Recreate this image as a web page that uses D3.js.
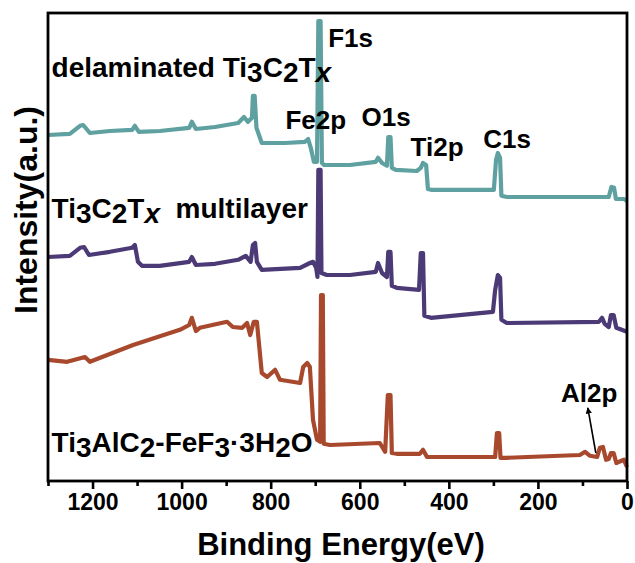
<!DOCTYPE html>
<html>
<head>
<meta charset="utf-8">
<script src="https://cdn.jsdelivr.net/npm/d3@7"></script>
<style>
  body { margin: 0; background: #fff; }
  text { font-family: "Liberation Sans", Arial, sans-serif; font-weight: bold; fill: #000; }
</style>
</head>
<body>
<svg id="chart" width="635" height="563"></svg>
<script>
// XPS survey spectra: [binding energy (eV), intensity (a.u.)]
const majorTicks = [0, 200, 400, 600, 800, 1000, 1200];
const minorTicks = [100, 300, 500, 700, 900, 1100, 1300];

const delaminated = [
  [1300, 86.5], [1251, 86.8], [1228, 88.8], [1221, 89], [1206, 87], [1161, 87.5],
  [1111, 87.8], [1105, 88.8], [1096, 87.3], [1049, 87.5], [983, 88.3], [977, 89.8],
  [968, 88], [925, 88.5], [873, 89.5], [860, 91], [851, 89.8], [842, 90.8],
  [840, 96.3], [836, 96.3], [832, 88.3], [820, 84.5], [768, 84.5], [723, 84.8],
  [716, 85.5], [710, 83.3], [703, 79.8], [696, 79.8], [693, 115], [688, 115],
  [685, 79.5], [680, 79], [622, 79], [564, 79.8], [559, 80.8], [550, 79.5],
  [539, 78.8], [536, 86], [531, 86], [528, 78.3], [519, 77.8], [472, 77.5],
  [463, 78.3], [458, 79.5], [451, 79], [447, 73], [440, 72.8], [299, 72.8],
  [294, 80.3], [290, 82], [285, 80.8], [282, 71.3], [270, 71], [41, 71],
  [35, 73.5], [29, 73.3], [25, 70.5], [7, 70.5], [0, 70]
];

const multilayer = [
  [1300, 56], [1251, 56.3], [1228, 58.3], [1219, 58.5], [1208, 56.5], [1161, 57.3],
  [1111, 58.3], [1105, 59], [1098, 54.8], [1089, 53.8], [1049, 53.8], [983, 54.8],
  [977, 56], [968, 54], [925, 54.3], [873, 55.3], [856, 56.3], [845, 54.8],
  [840, 59], [835, 59.5], [831, 54.8], [820, 52.8], [734, 53.3], [712, 54.5],
  [705, 54.8], [698, 53.3], [695, 51], [693, 77.8], [688, 77.8], [686, 52],
  [674, 51.5], [622, 51.5], [564, 52.3], [559, 54.5], [550, 52], [539, 51],
  [536, 57.3], [531, 57.3], [528, 48.8], [517, 48.3], [467, 47.8], [463, 57],
  [458, 57], [455, 41.3], [440, 40.8], [301, 42.3], [296, 47.8], [290, 51.5],
  [285, 50.8], [282, 40.3], [270, 39.5], [63, 39.8], [56, 40.8], [50, 39.3],
  [41, 38.5], [36, 41.5], [30, 41.5], [24, 38.3], [0, 37.3]
];

const precursor = [
  [1300, 30.3], [1257, 29.8], [1217, 31], [1206, 29.8], [1109, 34], [1004, 37.8],
  [983, 39], [977, 40.8], [968, 37.5], [959, 38.3], [898, 39.8], [885, 38.5],
  [864, 38.3], [853, 39.5], [846, 36.5], [838, 39.8], [831, 39.8], [820, 27],
  [808, 26], [790, 27.8], [779, 25.3], [734, 24.5], [727, 28.5], [718, 29.5],
  [712, 28.5], [705, 15.3], [696, 10.3], [689, 9.8], [687, 46.5], [683, 46.5],
  [681, 9.3], [667, 9], [555, 9.5], [543, 7.3], [537, 21.5], [531, 21.5],
  [528, 7], [517, 6.8], [465, 6.8], [458, 7.8], [449, 6], [296, 6],
  [292, 12], [287, 12], [284, 5.8], [270, 5.8], [106, 6.5], [94, 7.3],
  [83, 6.3], [67, 6], [61, 8.3], [54, 8.5], [47, 5.3], [41, 5.5],
  [36, 7], [30, 7], [24, 4.5], [7, 5.3], [0, 3.5]
];

const series = [
  { data: delaminated, color: "#5fa0a0" },
  { data: multilayer, color: "#4b3a76" },
  { data: precursor, color: "#a8492d" }
];

// Sample names, drawn with subscripts on the stoichiometric numbers
const sampleLabels = [
  { be: 1292, y: 101, parts: [["delaminated Ti"], ["3", "sub"], ["C"], ["2", "sub"], ["T"], ["x", "subi"]] },
  { be: 1292, y: 65.8, parts: [["Ti"], ["3", "sub"], ["C"], ["2", "sub"], ["T"], ["x", "subi"], ["  multilayer"]] },
  { be: 1292, y: 7.3, parts: [["Ti"], ["3", "sub"], ["AlC"], ["2", "sub"], ["-FeF"], ["3", "sub"], ["\u00b73H"], ["2", "sub"], ["O"]] }
];

// Peak assignments
const peakLabels = [
  { text: "F1s", be: 671, y: 108.5 },
  { text: "Fe2p", be: 767, y: 88 },
  { text: "O1s", be: 596, y: 88.8 },
  { text: "Ti2p", be: 486, y: 81.3 },
  { text: "C1s", be: 323, y: 83.3 },
  { text: "Al2p", be: 148, y: 19.8 }
];
const al2pArrow = { from: [70, 7], to: [88, 18.3] };

const svg = d3.select("#chart");
const plotLeft = 48, plotRight = 627, plotTop = 13, plotBottom = 481;

const x = d3.scaleLinear().domain([1300, 0]).range([plotLeft, plotRight]);
const y = d3.scaleLinear().domain([0, 117]).range([plotBottom, plotTop]);

const line = d3.line().x(d => x(d[0])).y(d => y(d[1]));

svg.append("g").selectAll("path")
  .data(series)
  .join("path")
  .attr("d", d => line(d.data))
  .attr("fill", "none")
  .attr("stroke", d => d.color)
  .attr("stroke-width", 4.2)
  .attr("stroke-linejoin", "round");

// Frame
svg.append("rect")
  .attr("x", plotLeft).attr("y", plotTop)
  .attr("width", plotRight - plotLeft).attr("height", plotBottom - plotTop)
  .attr("fill", "none").attr("stroke", "#000").attr("stroke-width", 2.8);

// Bottom axis: labelled major ticks plus short minor ticks
const axisMajor = d3.axisBottom(x).tickValues(majorTicks).tickSize(8).tickPadding(5).tickFormat(d3.format("d"));
const gMajor = svg.append("g").attr("transform", `translate(0,${plotBottom})`).call(axisMajor);
gMajor.select(".domain").remove();
gMajor.selectAll(".tick line").attr("stroke", "#000").attr("stroke-width", 2.6);
gMajor.selectAll(".tick text")
  .attr("fill", "#000")
  .style("font-size", "23px")
  .style("font-family", "'Liberation Sans', Arial, sans-serif")
  .style("font-weight", "bold");

const axisMinor = d3.axisBottom(x).tickValues(minorTicks).tickSize(5).tickFormat("");
const gMinor = svg.append("g").attr("transform", `translate(0,${plotBottom})`).call(axisMinor);
gMinor.select(".domain").remove();
gMinor.selectAll(".tick line").attr("stroke", "#000").attr("stroke-width", 2.6);

// Axis titles
svg.append("text")
  .attr("x", 341).attr("y", 555)
  .attr("text-anchor", "middle")
  .style("font-size", "31px")
  .text("Binding Energy(eV)");

svg.append("text")
  .attr("transform", "translate(37,210) rotate(-90)")
  .attr("text-anchor", "middle")
  .style("font-size", "32px")
  .text("Intensity(a.u.)");

// Sample names
sampleLabels.forEach(lab => {
  const t = svg.append("text")
    .attr("x", x(lab.be)).attr("y", y(lab.y))
    .style("font-size", "28px")
    .attr("xml:space", "preserve");
  let shifted = false;
  lab.parts.forEach(([txt, kind]) => {
    const isSub = kind === "sub" || kind === "subi";
    const ts = t.append("tspan").text(txt);
    if (isSub && !shifted) { ts.attr("dy", 5); shifted = true; }
    else if (!isSub && shifted) { ts.attr("dy", -5); shifted = false; }
    if (kind === "subi") ts.style("font-style", "italic");
  });
});

// Peak labels
svg.append("g").selectAll("text")
  .data(peakLabels)
  .join("text")
  .attr("x", d => x(d.be)).attr("y", d => y(d.y))
  .style("font-size", "26px")
  .text(d => d.text);

// Arrow pointing to the Al2p feature
svg.append("defs").append("marker")
  .attr("id", "arrowhead")
  .attr("viewBox", "0 0 10 10")
  .attr("refX", 9).attr("refY", 5)
  .attr("markerWidth", 4).attr("markerHeight", 4)
  .attr("orient", "auto")
  .append("path").attr("d", "M0,0L10,5L0,10Z").attr("fill", "#000");

svg.append("line")
  .attr("x1", x(al2pArrow.from[0])).attr("y1", y(al2pArrow.from[1]))
  .attr("x2", x(al2pArrow.to[0])).attr("y2", y(al2pArrow.to[1]))
  .attr("stroke", "#000").attr("stroke-width", 1.6)
  .attr("marker-end", "url(#arrowhead)");
</script>
</body>
</html>
